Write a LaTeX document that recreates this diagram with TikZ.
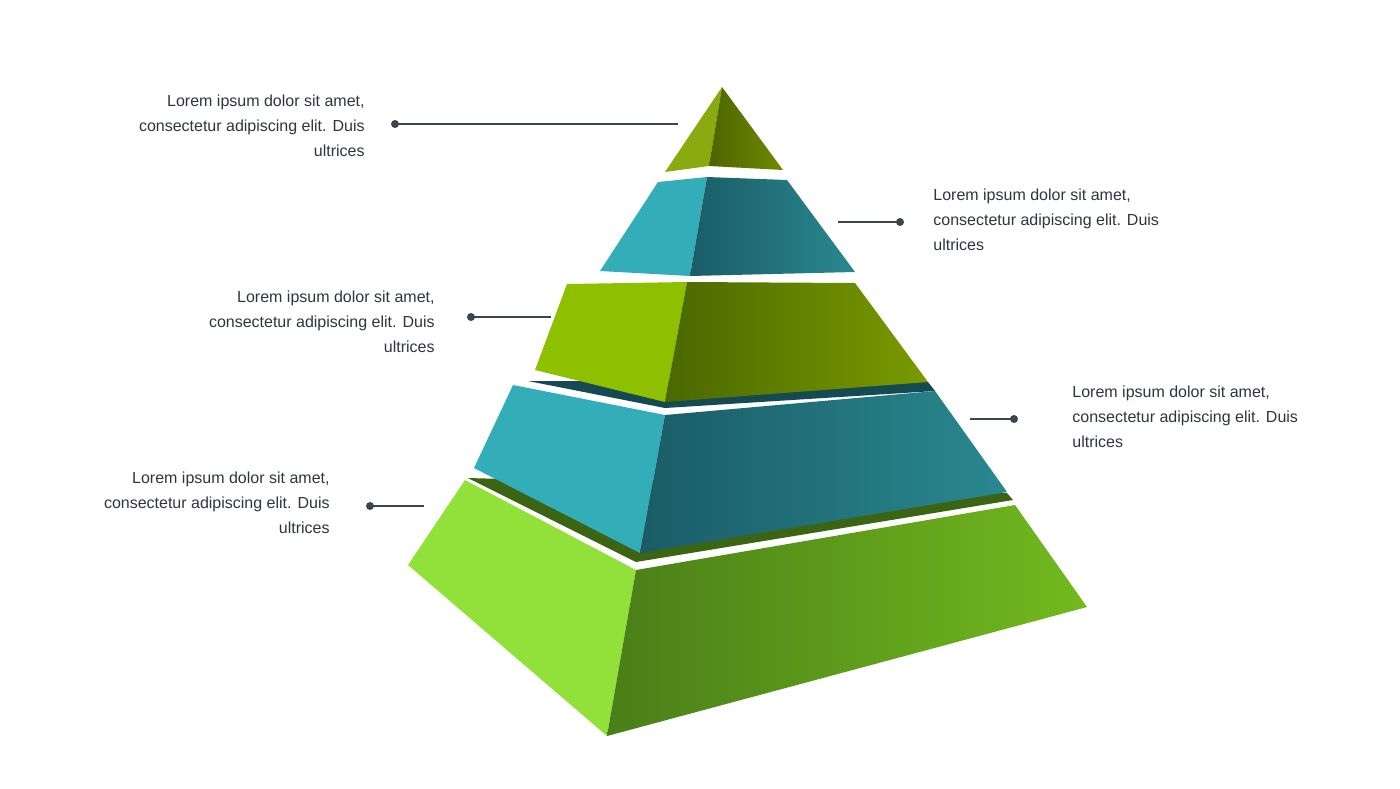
\documentclass[tikz,border=0pt]{standalone}
\usepackage{fontspec}
\setmainfont{Liberation Sans}
\definecolor{txt}{HTML}{2E3440}
\definecolor{ln}{HTML}{3A4550}
\definecolor{g1}{HTML}{8AAA10}
\definecolor{g1d}{HTML}{4E6400}
\definecolor{g1e}{HTML}{6E8A00}
\definecolor{t1}{HTML}{33ADB8}
\definecolor{t1d}{HTML}{1A5C66}
\definecolor{t1e}{HTML}{2A8890}
\definecolor{g3}{HTML}{8FC000}
\definecolor{g3d}{HTML}{4A6800}
\definecolor{g3e}{HTML}{7A9A00}
\definecolor{g5}{HTML}{92E03A}
\definecolor{g5d}{HTML}{4A7E18}
\definecolor{g5e}{HTML}{72BA1E}
\begin{document}
\begin{tikzpicture}[x=0.5pt,y=-0.5pt,
 lbl/.style={font=\fontsize{8}{12.5}\selectfont,text=txt,inner sep=0pt},
 conn/.style={draw=ln,line width=1.1pt},
 dotc/.style={fill=ln}]
\useasboundingbox (0,0) rectangle (1400,788);
% layer 5
\fill[g5d!80!black] (468,478) -- (636,562) -- (1013,500) -- (1007,493) -- cycle;
\fill[g5] (465,480) -- (636,570) -- (607,736) -- (408,565) -- cycle;
\shade[left color=g5d,right color=g5e] (636,570) -- (1015,505) -- (1087,607) -- (607,736) -- cycle;
% layer 4
\fill[t1d!80!black] (528,381) -- (665,408) -- (935,391) -- (928,382) -- cycle;
\fill[t1] (513,385) -- (665,415) -- (640,553) -- (474,468) -- cycle;
\shade[left color=t1d,right color=t1e] (665,415) -- (935,391) -- (1007,492) -- (640,553) -- cycle;
% layer 3
\fill[g3] (567,284) -- (687,282) -- (665,402) -- (535,370) -- cycle;
\shade[left color=g3d,right color=g3e] (687,282) -- (855,283) -- (928,382) -- (665,402) -- cycle;
% layer 2
\fill[t1] (658,182) -- (707,177) -- (690,276) -- (600,271) -- cycle;
\shade[left color=t1d,right color=t1e] (707,177) -- (787,180) -- (855,272) -- (690,276) -- cycle;
% top
\fill[g1] (722,87) -- (709,166) -- (665,172) -- cycle;
\shade[left color=g1d,right color=g1e] (722,87) -- (783,170) -- (709,166) -- cycle;
% labels
\node[lbl,align=right,anchor=east] (l1) at (365,126) {Lorem ipsum dolor sit amet,\\consectetur adipiscing elit. Duis\\ultrices};
\node[lbl,align=left,anchor=west] (l2) at (933,220) {Lorem ipsum dolor sit amet,\\consectetur adipiscing elit. Duis\\ultrices};
\node[lbl,align=right,anchor=east] (l3) at (435,322) {Lorem ipsum dolor sit amet,\\consectetur adipiscing elit. Duis\\ultrices};
\node[lbl,align=left,anchor=west] (l4) at (1072,417) {Lorem ipsum dolor sit amet,\\consectetur adipiscing elit. Duis\\ultrices};
\node[lbl,align=right,anchor=east] (l5) at (330,503) {Lorem ipsum dolor sit amet,\\consectetur adipiscing elit. Duis\\ultrices};
% connectors
\coordinate (d1) at (395,124); \coordinate (e1) at (678,124);
\coordinate (d2) at (900,222); \coordinate (e2) at (838,222);
\coordinate (d3) at (471,317); \coordinate (e3) at (551,317);
\coordinate (d4) at (1014,419); \coordinate (e4) at (970,419);
\coordinate (d5) at (370,506); \coordinate (e5) at (424,506);
\foreach \i in {1,...,5}{\draw[conn] (d\i) -- (e\i); \fill[dotc] (d\i) circle (4);}
\end{tikzpicture}
\end{document}
